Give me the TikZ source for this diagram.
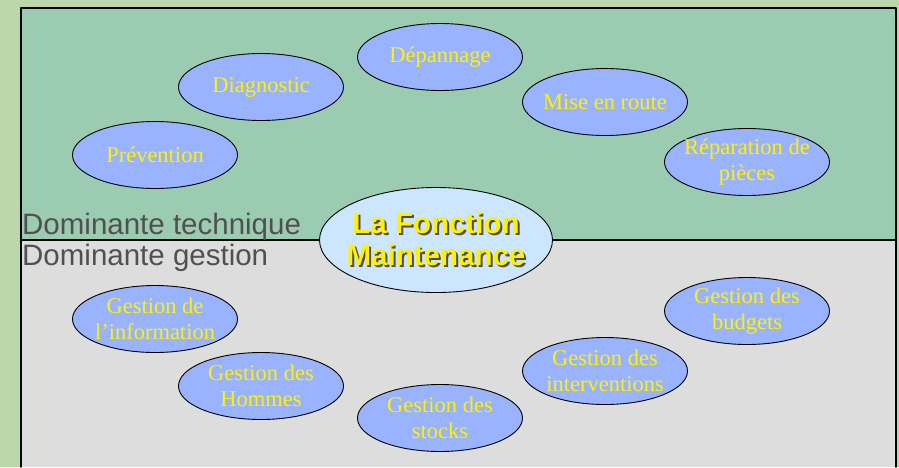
\documentclass[tikz,border=0pt]{standalone}
\usepackage{fontspec}
\setmainfont{Liberation Serif}
\newfontfamily\arialfont{Liberation Sans}
\usetikzlibrary{shapes.geometric}

\definecolor{fondvert}{RGB}{188,216,170}
\definecolor{panvert}{RGB}{155,204,178}
\definecolor{pangris}{RGB}{221,221,221}
\definecolor{bulle}{RGB}{153,179,255}
\definecolor{bulleclair}{RGB}{204,230,255}
\definecolor{textegris}{RGB}{80,80,80}

% texte avec ombre portee
\newcommand{\ombrage}[1]{\rlap{\kern2pt\raisebox{-2pt}{\color{black!70}#1}}#1}

\tikzset{
  bulle/.style={ellipse,draw=black,line width=0.9pt,fill=bulle,
    inner xsep=-20pt,inner ysep=-10pt,
    minimum width=165pt,minimum height=67pt,text=yellow,align=center,
    font=\fontsize{22.5}{26}\selectfont},
  centre/.style={ellipse,draw=black,line width=0.9pt,fill=bulleclair,
    inner xsep=-20pt,inner ysep=-10pt,
    minimum width=233pt,minimum height=105pt,text=yellow,align=center,
    font=\arialfont\bfseries\fontsize{29.5}{32}\selectfont},
  dominante/.style={anchor=base west,inner sep=0pt,text=textegris,
    font=\arialfont\fontsize{29.5}{32}\selectfont}
}

\begin{document}
\begin{tikzpicture}[line cap=round,line join=round,x=1pt,y=-1pt]
      \useasboundingbox (0,0) rectangle (899,467);
      \fill[fondvert] (0,0) rectangle (899,467);
      \fill[panvert] (21,8) rectangle (896,240);
      \fill[pangris] (21,240) rectangle (896,467);
      \draw[line width=1.3pt] (21,467) -- (21,8) -- (896,8) -- (896,467);
      \draw[line width=1.3pt] (21,240) -- (896,240);

      % dominante technique
      \foreach \nom/\x/\y/\txt in {prev/155/155/Prévention,
          diag/261/87/Diagnostic,
          depan/440/57/Dépannage,
          route/605/102/Mise en route,
          repar/747/162/Réparation de\\pièces}{
        \node[bulle] (\nom) at (\x,\y) {\txt};
      }

      % dominante gestion
      \foreach \nom/\x/\y/\txt in {info/155/319/Gestion de\\l’information,
          hommes/261/386/Gestion des\\Hommes,
          stocks/440/418/Gestion des\\stocks,
          interv/605/371/Gestion des\\interventions,
          budget/747/311/Gestion des\\budgets}{
        \node[bulle] (\nom) at (\x,\y) {\txt};
      }

      \node[dominante] (tech) at (22,234) {Dominante technique};
      \node[dominante] (gest) at (22,265) {Dominante gestion};

      \node[centre] (fonction) at (436,240) {\ombrage{La Fonction}\\\ombrage{Maintenance}};
    \end{tikzpicture}
\end{document}
